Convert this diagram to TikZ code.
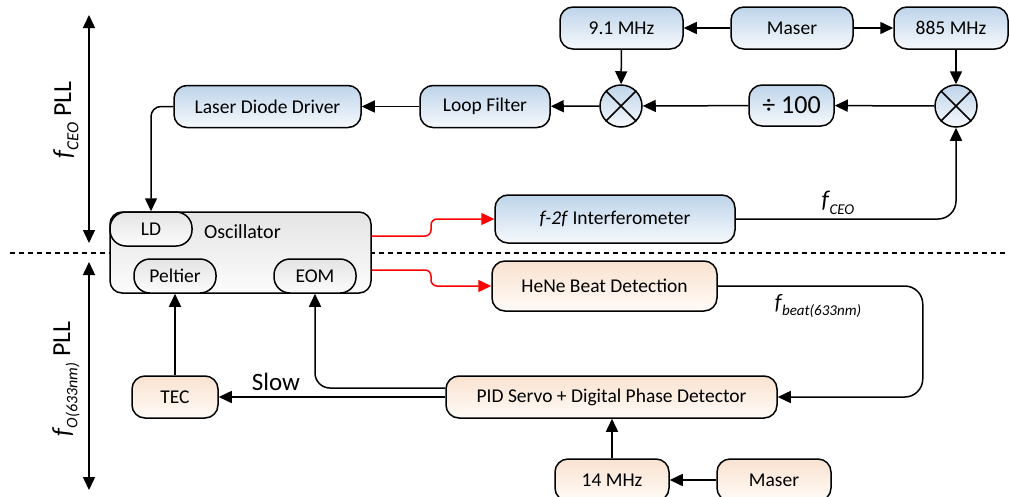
\documentclass[tikz,border=0pt]{standalone}
\usepackage{fontspec}
\setmainfont{Carlito}
\usetikzlibrary{arrows.meta}
\definecolor{bluetop}{RGB}{190,212,234}
\definecolor{bluebot}{RGB}{246,249,252}
\definecolor{orgtop}{RGB}{249,226,208}
\definecolor{orgbot}{RGB}{255,251,247}
\definecolor{graytop}{RGB}{228,228,228}
\definecolor{graybot}{RGB}{252,252,252}
\newcommand{\fsub}[3]{{\fontsize{#1}{#1}\selectfont\itshape f\kern0.5pt\raisebox{-0.28em}{\fontsize{#2}{#2}\selectfont #3}}}
\begin{document}
\begin{tikzpicture}[x=1pt,y=-1pt,
  font=\fontsize{19.5}{22}\selectfont,
  line width=1.5pt,
  >={Triangle[length=13pt,width=12pt]},
  base/.style={draw=black, line width=1.5pt, rounded corners=13pt, inner sep=0pt, align=center},
  bluebox/.style={base, top color=bluetop, bottom color=bluebot},
  orgbox/.style={base, top color=orgtop, bottom color=orgbot},
  graybox/.style={base, top color=graytop, bottom color=graybot},
  smallbox/.style={graybox, rounded corners=16pt, minimum width=82pt, minimum height=34pt},
  mixer/.style={draw=black, line width=1.5pt, circle, minimum size=42pt, inner sep=0pt, top color=bluetop, bottom color=bluebot},
  conn/.style={->, line width=1.5pt},
  rconn/.style={->, line width=1.5pt, red, rounded corners=6pt}
]
\useasboundingbox (0,0) rectangle (1009,496);
\fill[white] (0,0) rectangle (1009,496);

% dashed separator
\draw[line width=2pt, dash pattern=on 5pt off 4pt] (10,253) -- (1009,253);

% left range arrows
\coordinate (a1) at (89,15);
\coordinate (a2) at (89,243);
\coordinate (a3) at (89,262);
\coordinate (a4) at (89,490);
\draw[<->] (a1) -- (a2);
\draw[<->] (a3) -- (a4);
\node[rotate=90, font=\fontsize{26}{28}\selectfont] (lblA) at (66,120) {\fsub{26}{17}{CEO} PLL};
\node[rotate=90, font=\fontsize{26}{28}\selectfont] (lblB) at (66,379) {\fsub{26}{16}{O(633nm)} PLL};

% top row
\node[bluebox, minimum width=123pt, minimum height=42pt] (nine) at (621.5,28) {9.1 MHz};
\node[bluebox, minimum width=122pt, minimum height=42pt] (maser) at (792,28) {Maser};
\node[bluebox, minimum width=114pt, minimum height=42pt] (eight) at (951,28) {885 MHz};

% second row
\node[mixer] (m1) at (621,106) {};
\draw[line width=1.5pt] (m1.north west) -- (m1.south east) (m1.north east) -- (m1.south west);
\node[mixer] (m2) at (956,106) {};
\draw[line width=1.5pt] (m2.north west) -- (m2.south east) (m2.north east) -- (m2.south west);
\node[bluebox, minimum width=85pt, minimum height=41pt, font=\fontsize{26}{28}\selectfont] (div) at (791.5,105.5) {÷ 100};
\node[bluebox, minimum width=130pt, minimum height=42pt] (lf) at (485,106.5) {Loop Filter};
\node[bluebox, minimum width=187pt, minimum height=42pt] (ldd) at (267.5,106.5) {Laser Diode Driver};

% oscillator
\node[graybox, rounded corners=12pt, minimum width=261pt, minimum height=81pt] (osc) at (240.5,252.5) {};
\node[anchor=west, font=\fontsize{20}{22}\selectfont] (osct) at (200,232) {Oscillator};
\node[smallbox] (ld) at (151,229) {LD};
\node[smallbox] (pel) at (175,276) {Peltier};
\node[smallbox] (eom) at (315,276) {EOM};

% interferometer / HeNe
\node[bluebox, minimum width=240pt, minimum height=48pt] (f2f) at (615,219) {\textit{f-2f} Interferometer};
\node[orgbox, minimum width=225pt, minimum height=50pt] (hene) at (604.5,286) {HeNe Beat Detection};

% bottom
\node[orgbox, minimum width=86pt, minimum height=42pt] (tec) at (175,397) {TEC};
\node[orgbox, minimum width=331pt, minimum height=42pt] (pid) at (611.5,397) {PID Servo + Digital Phase Detector};
\node[orgbox, minimum width=114pt, minimum height=42pt] (fourteen) at (612,480) {14 MHz};
\node[orgbox, minimum width=114pt, minimum height=42pt] (maser2) at (774,480) {Maser};

% connectors top
\draw[conn] (maser) -- (nine);
\draw[conn] (maser) -- (eight);
\draw[conn] (nine) -- (m1);
\draw[conn] (eight.south -| m2.north) -- (m2.north);
\draw[conn] (m2) -- (div);
\draw[conn] (div) -- (m1);
\draw[conn] (m1) -- (lf);
\draw[conn] (lf) -- (ldd);
\draw[conn, rounded corners=10pt] (ldd.west) -| (ld.north);
\draw[conn, rounded corners=18pt] (f2f.east) -| (m2.south);
\node (lceo) at (838,203) {\fsub{24}{15}{CEO}};

% red beams
\draw[rconn] (osc.east |- 0,236) -- (431,236) -- (431,219) -- (f2f.west);
\draw[rconn] (osc.east |- 0,270) -- (431,270) -- (431,286) -- (hene.west);

% lower connectors
\draw[conn, rounded corners=18pt] (hene.east) -- ++(205,0) |- (pid.east);
\node (lbeat) at (818,306) {\fsub{22}{15}{beat(633nm)}};
\draw[conn] (pid.west) -- (tec.east);
\node[font=\fontsize{25}{27}\selectfont] (slow) at (276,382) {Slow};
\draw[conn, rounded corners=15pt] ([yshift=9pt]pid.west) -| (eom.south);
\draw[conn] (tec.north) -- (pel.south);
\draw[conn] (fourteen.north) -- (fourteen.north |- pid.south);
\draw[conn] (maser2) -- (fourteen);
\end{tikzpicture}
\end{document}
